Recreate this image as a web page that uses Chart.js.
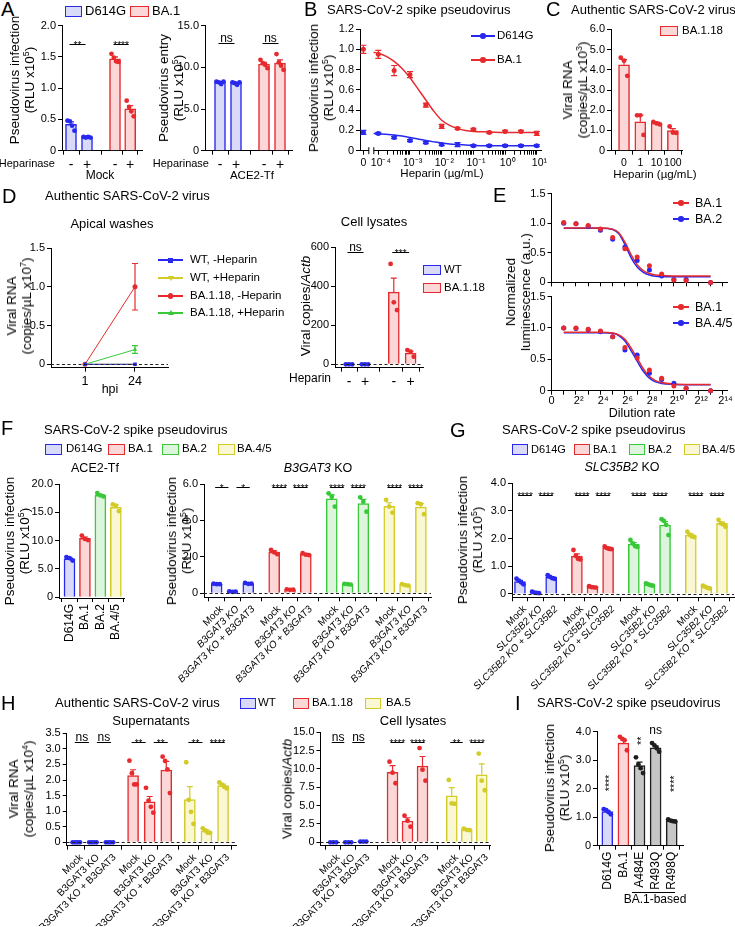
<!DOCTYPE html>
<html><head><meta charset="utf-8">
<script src="https://cdn.jsdelivr.net/npm/chart.js@4.4.1/dist/chart.umd.min.js"></script>
<style>
html,body{margin:0;padding:0;background:#fff;}
#root{position:relative;width:735px;height:927px;overflow:hidden;font-family:"Liberation Sans",Arial,Helvetica,sans-serif;color:#000;}
sup{font-size:0.65em;line-height:0;vertical-align:0.55em;}
</style></head><body><div id="root"></div>
<script>
// ================= DATA =================
// A
const aCats = ['-', '+', '-', '+'];
const aInfMean = [0.42, 0.22, 1.47, 0.67];
const aInfSem  = [0.04, 0.01, 0.03, 0.05];
const aInfPts  = [[0.48,0.47,0.40,0.32],[0.22,0.21,0.22,0.21],[1.55,1.49,1.43,1.42],[0.80,0.70,0.63,0.55]];
const aEntMean = [8.2, 8.1, 10.4, 10.5];
const aEntSem  = [0.1, 0.1, 0.2, 0.4];
const aEntPts  = [[8.3,8.2,8.0,8.3],[8.2,8.1,7.9,8.2],[10.9,10.5,10.3,9.9],[11.6,10.6,10.2,9.7]];
// B
const bHeparin  = [0, 1e-4, 3.16e-4, 1e-3, 3.16e-3, 1e-2, 3.16e-2, 0.1, 0.316, 1, 3.16, 10];
const bBA1      = [1.00, 0.95, 0.79, 0.75, 0.45, 0.24, 0.22, 0.21, 0.18, 0.19, 0.19, 0.17];
const bBA1Err   = [0.04, 0.04, 0.05, 0.03, 0.02, 0.02, 0.01, 0.01, 0.01, 0.01, 0.01, 0.02];
const bD614G    = [0.18, 0.17, 0.13, 0.10, 0.08, 0.06, 0.06, 0.05, 0.05, 0.05, 0.05, 0.05];
const bD614GErr = [0.02, 0.01, 0.01, 0.01, 0.01, 0.01, 0.02, 0.01, 0.01, 0.01, 0.01, 0.01];
const bFitConc  = [7.1e-5, 1e-4, 1.78e-4, 3.16e-4, 5.62e-4, 1e-3, 1.78e-3, 3.16e-3, 5.62e-3, 1e-2, 1.78e-2, 3.16e-2, 5.62e-2, 0.1, 0.316, 1, 3.16, 10];
const bFitBA1   = [0.97, 0.96, 0.93, 0.88, 0.81, 0.72, 0.61, 0.50, 0.39, 0.30, 0.25, 0.22, 0.20, 0.19, 0.185, 0.18, 0.18, 0.18];
const bFitD614G = [0.17, 0.168, 0.162, 0.155, 0.144, 0.13, 0.115, 0.10, 0.087, 0.075, 0.066, 0.06, 0.055, 0.052, 0.05, 0.05, 0.05, 0.05];
const bMajorLabels = ['10⁻⁴','10⁻³','10⁻²','10⁻¹','10⁰','10¹'];
// C
const cCats = ['0', '1', '10', '100'];
const cMean = [4.25, 1.43, 1.36, 0.99];
const cSem  = [0.25, 0.33, 0.05, 0.10];
const cPts  = [[4.6,4.45,3.7],[1.75,1.75,0.78],[1.42,1.35,1.30],[1.20,0.90,0.88]];
// D
const dHpi = ['1', '24'];
const dWTneg = [0, 0];
const dWTpos = [0, 0];
const dBAneg = [0, 1.0];
const dBAnegErr = [0, 0.3];
const dBApos = [0, 0.19];
const dBAposErr = [0, 0.05];
const dLysCats = ['-', '+', '-', '+'];
const dLysMean = [0, 0, 370, 57];
const dLysSem  = [0, 0, 72, 10];
const dLysPts  = [[0,0,0],[0,0,0],[515,318,278],[73,65,39]];
// E
const eDilution = [2,4,8,16,32,64,128,256,512,1024,2048,8192];
const eTopBA1 = [1.01,0.99,0.96,0.90,0.76,0.57,0.43,0.28,0.14,0.04,0.03,0.0];
const eTopBA2 = [1.00,0.99,0.95,0.88,0.73,0.60,0.37,0.21,0.11,0.05,0.05,0.0];
const eBotBA1 = [1.00,1.00,0.98,0.95,0.86,0.69,0.52,0.33,0.20,0.075,0.04,0.0];
const eBotBA45= [1.00,0.99,0.97,0.94,0.86,0.65,0.57,0.28,0.18,0.12,0.04,0.0];
const eFitDil = [2, 16, 32, 45.3, 64, 90.5, 128, 181, 256, 362, 512, 1024, 2048, 8192];
const eFitTopBA1 = [0.92,0.92,0.90,0.84,0.68,0.47,0.30,0.20,0.15,0.125,0.115,0.11,0.11,0.11];
const eFitTopBA2 = [0.915,0.915,0.895,0.82,0.64,0.42,0.26,0.17,0.125,0.105,0.10,0.095,0.095,0.095];
const eFitBotBA1 = [0.93,0.93,0.92,0.89,0.82,0.68,0.52,0.35,0.23,0.16,0.13,0.105,0.10,0.10];
const eFitBotBA45= [0.925,0.925,0.915,0.88,0.79,0.64,0.47,0.31,0.20,0.14,0.115,0.10,0.095,0.095];
const eTickLabels = ['0','','2²','','2⁴','','2⁶','','2⁸','','2¹⁰','','2¹²','','2¹⁴'];
// F
const fAceCats = ['D614G','BA.1','BA.2','BA.4/5'];
const fAceMean = [6.8, 10.4, 18.0, 15.9];
const fAceSem  = [0.2, 0.25, 0.15, 0.4];
const fAcePts  = [[7.1,6.9,6.5],[10.9,10.3,10.1],[18.4,18.0,17.8],[16.4,16.2,15.2]];
const fKoCats = ['Mock','B3GAT3 KO','B3GAT3 KO + B3GAT3','Mock','B3GAT3 KO','B3GAT3 KO + B3GAT3','Mock','B3GAT3 KO','B3GAT3 KO + B3GAT3','Mock','B3GAT3 KO','B3GAT3 KO + B3GAT3'];
const fKoMean = [0.51, 0.09, 0.54, 2.26, 0.20, 2.14, 5.18, 0.50, 4.93, 4.77, 0.46, 4.73];
const fKoSem  = [0.02, 0.01, 0.03, 0.07, 0.01, 0.03, 0.22, 0.02, 0.23, 0.2, 0.02, 0.2];
const fKoPts  = [[0.53,0.50,0.50],[0.10,0.08,0.09],[0.57,0.52,0.53],[2.38,2.25,2.15],[0.22,0.19,0.20],[2.20,2.12,2.10],
                 [5.49,5.30,4.76],[0.52,0.50,0.48],[5.27,5.03,4.48],[5.13,4.76,4.43],[0.50,0.45,0.42],[4.95,4.90,4.34]];
// G
const gCats = ['Mock','SLC35B2 KO','SLC35B2 KO + SLC35B2','Mock','SLC35B2 KO','SLC35B2 KO + SLC35B2','Mock','SLC35B2 KO','SLC35B2 KO + SLC35B2','Mock','SLC35B2 KO','SLC35B2 KO + SLC35B2'];
const gMean = [0.45, 0.05, 0.60, 1.37, 0.25, 1.66, 1.80, 0.34, 2.49, 2.13, 0.25, 2.55];
const gSem  = [0.04, 0.01, 0.03, 0.08, 0.01, 0.03, 0.06, 0.02, 0.13, 0.04, 0.02, 0.05];
const gPts  = [[0.55,0.48,0.42,0.35],[0.08,0.05,0.04,0.03],[0.68,0.62,0.57,0.55],[1.59,1.38,1.27,1.25],[0.28,0.25,0.24,0.23],[1.72,1.66,1.63,1.62],
               [1.95,1.83,1.73,1.70],[0.38,0.35,0.32,0.30],[2.70,2.64,2.50,2.13],[2.25,2.14,2.08,2.06],[0.30,0.26,0.22,0.20],[2.68,2.55,2.52,2.43]];
// H
const hCats = ['Mock','B3GAT3 KO','B3GAT3 KO + B3GAT3','Mock','B3GAT3 KO','B3GAT3 KO + B3GAT3','Mock','B3GAT3 KO','B3GAT3 KO + B3GAT3'];
const hSupMean = [0, 0, 0, 2.14, 1.30, 2.32, 1.37, 0.36, 1.82];
const hSupSem  = [0, 0, 0, 0.19, 0.17, 0.28, 0.42, 0.04, 0.05];
const hSupPts  = [[0,0,0,0],[0,0,0,0],[0,0,0,0],[2.62,2.22,1.86,1.86],[1.75,1.34,1.14,0.95],[2.75,2.61,2.34,1.58],
                  [2.57,1.36,0.98,0.59],[0.45,0.38,0.31,0.30],[1.92,1.85,1.78,1.73]];
const hLysMean = [0.05, 0.05, 0.1, 9.55, 2.9, 10.4, 6.35, 1.73, 9.2];
const hLysSem  = [0.03, 0.03, 0.05, 0.9, 0.45, 1.3, 1.1, 0.06, 1.5];
const hLysPts  = [[0,0,0],[0,0,0],[0.1,0.1,0.1],[11.0,9.5,8.05],[3.63,2.95,2.13],[12.85,9.9,8.4],[8.5,5.3,5.25],[1.85,1.7,1.65],[12.1,8.4,7.1]];
// I
const iCats = ['D614G','BA.1','A484E','R493Q','R498Q'];
const iMean = [1.20, 3.60, 2.81, 3.43, 0.87];
const iSem  = [0.04, 0.10, 0.12, 0.07, 0.02];
const iPts  = [[1.28,1.25,1.18,1.10],[3.82,3.75,3.70,3.35],[3.10,2.85,2.72,2.55],[3.60,3.52,3.42,3.30],[0.92,0.88,0.86,0.85]];

// ================= STYLE / HELPERS =================
const FONT = '"Liberation Sans", Arial, Helvetica, sans-serif';
Chart.defaults.font.family = FONT;
Chart.defaults.font.size = 11;
Chart.defaults.color = '#000';
Chart.defaults.animation = false;
Chart.defaults.responsive = false;
Chart.defaults.events = [];
Chart.defaults.plugins.legend.display = false;
Chart.defaults.plugins.tooltip.enabled = false;

const COL = {
  blue:   {s:'#2828ee', f:'#d8daf8'},
  red:    {s:'#e62a2e', f:'#fbd7d7'},
  green:  {s:'#38c838', f:'#dcf5dc'},
  yellow: {s:'#d2cb28', f:'#f9f8d2'},
  gray:   {s:'#1e1e1e', f:'#c6c6c6'}
};
const root = document.getElementById('root');
function el(css, html){ const e=document.createElement('div'); e.style.cssText='position:absolute;'+css; if(html!==undefined) e.innerHTML=html; root.appendChild(e); return e; }
function txt(x, cy, html, size, align){
  const tx = align==='c' ? '-50%' : align==='r' ? '-100%' : '0';
  return el(`left:${x}px;top:${cy}px;transform:translate(${tx},-50%);font-size:${size}px;white-space:nowrap;line-height:1.15;`, html);
}
function vtxt(cx, cy, html, size, lh){
  return el(`left:${cx}px;top:${cy}px;transform:translate(-50%,-50%) rotate(-90deg);font-size:${size}px;white-space:nowrap;text-align:center;line-height:${lh||15}px;`, html);
}
function boxLegend(x, cy, w, h, c, label, tx, size){
  el(`left:${x}px;top:${cy-h/2}px;width:${w}px;height:${h}px;border:1.5px solid ${c.s};background:${c.f};box-sizing:border-box;`);
  txt(tx, cy, label, size||11.5);
}
function lineLegend(x1, x2, cy, color, label, tx, size, marker){
  el(`left:${x1}px;top:${cy-0.75}px;width:${x2-x1}px;height:1.5px;background:${color};`);
  const mx=(x1+x2)/2;
  if(marker==='rect') el(`left:${mx-2.5}px;top:${cy-2.5}px;width:5px;height:5px;background:${color};`);
  else if(marker==='tri') el(`left:${mx-3}px;top:${cy-3}px;width:0;height:0;border-left:3px solid transparent;border-right:3px solid transparent;border-bottom:5px solid ${color};`);
  else if(marker==='trid') el(`left:${mx-3}px;top:${cy-2}px;width:0;height:0;border-left:3px solid transparent;border-right:3px solid transparent;border-top:5px solid ${color};`);
  else el(`left:${mx-2.75}px;top:${cy-2.75}px;width:5.5px;height:5.5px;border-radius:50%;background:${color};`);
  txt(tx, cy, label, size||11.5);
}
function frame(rect, ext){
  const L=Math.round(rect[0]-ext.l), T=Math.round(rect[1]-ext.t), R=Math.round(rect[2]+ext.r), B=Math.round(rect[3]+ext.b);
  const c=document.createElement('canvas');
  c.width=R-L; c.height=B-T;
  c.style.cssText=`position:absolute;left:${L}px;top:${T}px;width:${R-L}px;height:${B-T}px;`;
  root.appendChild(c);
  return {canvas:c, yw:rect[0]-L, pt:rect[1]-T, pr:R-rect[2], xh:B-rect[3]};
}
function axisStyle(){ return {
  grid:{display:true, drawOnChartArea:false, drawTicks:true, tickLength:4, color:'#000', lineWidth:1},
  border:{display:true, color:'#000', width:1}
};}
function yAxis(range, ticks, dec, width){
  return Object.assign(axisStyle(), {type:'linear', position:'left', min:range[0], max:range[1],
    afterBuildTicks:s=>{ s.ticks = ticks.map(v=>({value:v})); },
    afterFit:s=>{ s.width = width; },
    ticks:{autoSkip:false, padding:2, font:{size:11}, color:'#000', callback:v=> v===0 ? '0' : v.toFixed(dec)}
  });
}
// superscript labels: pad left so the base number sits centred on the tick
const supPad = s => /[⁰¹²³⁴⁵⁶⁷⁸⁹⁻]/.test(s) ? '\u2002' + s : s;
function xAxis(type, range, ticks, labels, height, rot, font, pad){
  return Object.assign(axisStyle(), {type, position:'bottom', min:range[0], max:range[1], offset:false,
    afterBuildTicks:s=>{ s.ticks = ticks.map(v=>({value:v})); },
    afterFit:s=>{ s.height = height; },
    ticks:{autoSkip:false, padding:(pad===undefined?2:pad), maxRotation:rot, minRotation:rot, labelOffset:(rot===45?5:0),
           font:font||{size:11}, color:'#000', callback:(v,i)=>supPad(labels[i])}
  });
}
function deco(o){
  return {id:'deco',
    afterDatasetDraw(chart, args){
      const ds = chart.data.datasets[args.index];
      const errs = ds.sem || ds.err; if(!errs) return;
      const ctx=chart.ctx, xs=chart.scales.x, ys=chart.scales.y;
      ctx.save(); ctx.lineWidth=1.2;
      ds.data.forEach((p,i)=>{
        const e=errs[i]; if(!e || p.y==null) return;
        const col = Array.isArray(ds.borderColor) ? ds.borderColor[i] : ds.borderColor;
        const x=xs.getPixelForValue(p.x);
        const y1=ys.getPixelForValue(p.y+e), y0=ys.getPixelForValue(ds.sem ? p.y : p.y-e);
        ctx.strokeStyle=col; ctx.beginPath();
        ctx.moveTo(x,y0); ctx.lineTo(x,y1);
        ctx.moveTo(x-3,y1); ctx.lineTo(x+3,y1);
        if(!ds.sem){ ctx.moveTo(x-3,y0); ctx.lineTo(x+3,y0); }
        ctx.stroke();
      });
      ctx.restore();
    },
    afterDatasetsDraw(chart){
      const ctx=chart.ctx, xs=chart.scales.x, ys=chart.scales.y, a=chart.chartArea;
      ctx.save();
      if(o.zero){
        const y=Math.round(ys.getPixelForValue(0))+0.5;
        ctx.setLineDash([3,2.5]); ctx.strokeStyle='#222'; ctx.lineWidth=1;
        ctx.beginPath(); ctx.moveTo(a.left,y); ctx.lineTo(a.right,y); ctx.stroke(); ctx.setLineDash([]);
      }
      if(o.sig){
        o.sig.forEach(([i,j,t])=>{
          const leftShared = o.sig.some(s=>s[1]===i), rightShared = o.sig.some(s=>s[0]===j);
          const x1=xs.getPixelForValue(o.pos[i]) + (leftShared ? 4 : -1.5);
          const x2=xs.getPixelForValue(o.pos[j]) + (rightShared ? -4 : (leftShared ? 1.5 : -1.5));
          const m=(x1+x2)/2;
          const y=Math.round(ys.getPixelForValue(o.sigY))+0.5;
          ctx.strokeStyle='#000'; ctx.lineWidth=1;
          ctx.beginPath(); ctx.moveTo(x1,y); ctx.lineTo(x2,y); ctx.stroke();
          ctx.fillStyle='#000'; ctx.textAlign='center'; ctx.textBaseline='alphabetic';
          const star=t.includes('*');
          ctx.font=(star?10:12)+'px '+FONT;
          ctx.fillText(t, m, star ? y+4 : y-1.5);
        });
      }
      if(o.vsig){
        o.vsig.forEach(([i,t,yv,mode])=>{
          const x=xs.getPixelForValue(o.pos[i]), y=ys.getPixelForValue(yv);
          ctx.fillStyle='#000'; ctx.textAlign='center'; ctx.textBaseline='middle';
          if(mode==='v'){
            ctx.font='10.5px '+FONT; ctx.save(); ctx.translate(x,y); ctx.rotate(-Math.PI/2); ctx.fillText(t,0,3); ctx.restore();
          } else { ctx.font='12px '+FONT; ctx.fillText(t,x,y); }
        });
      }
      if(o.brk){
        const x=xs.getPixelForValue(o.brk), y=a.bottom;
        ctx.fillStyle='#fff'; ctx.fillRect(x-2.5, y-2, 5, 4);
        ctx.strokeStyle='#000'; ctx.lineWidth=1;
        ctx.beginPath(); ctx.moveTo(x-2.5,y-3.5); ctx.lineTo(x-2.5,y+3.5); ctx.moveTo(x+2.5,y-3.5); ctx.lineTo(x+2.5,y+3.5); ctx.stroke();
      }
      ctx.restore();
    }
  };
}
const JIT = {1:[0],2:[-0.12,0.12],3:[-0.2,0,0.2],4:[-0.22,-0.07,0.07,0.22]};
function barChart(o){
  const f=frame(o.rect, o.ext);
  const dots=[], dotCol=[];
  o.pts.forEach((arr,i)=>arr.forEach((v,k)=>{ dots.push({x:o.pos[i]+JIT[arr.length][k], y:v}); dotCol.push(o.colors[i].s); }));
  new Chart(f.canvas, {
    type:'bar',
    data:{datasets:[
      {type:'scatter', data:dots, pointRadius:o.r||2.4, pointBackgroundColor:dotCol, pointBorderWidth:0, clip:false, order:0},
      {type:'bar', data:o.means.map((m,i)=>({x:o.pos[i], y:m})), sem:o.sems,
       backgroundColor:o.colors.map(c=>c.f), borderColor:o.colors.map(c=>c.s), borderWidth:1.5,
       barThickness:o.bw||11, order:1, borderSkipped:'start'}
    ]},
    options:{layout:{padding:{top:f.pt, right:f.pr, left:0, bottom:0}},
      scales:{x:xAxis('linear', o.xRange, o.pos, o.labels, f.xh, o.rot||0, o.xFont),
              y:yAxis(o.yRange, o.yTicks, o.dec, f.yw)}},
    plugins:[deco(o)]
  });
}
function groupPos(n, step){ const p=[]; for(let g=0; g<n; g++) for(let k=0;k<3;k++) p.push(g*step+k); return p; }
function rep(arr, n){ return [].concat(...arr.map(c=>Array(n).fill(c))); }
const italicKO = ctx => ({size:10, family:FONT, style: (ctx.index%3!==0) ? 'italic' : 'normal'});

// ================= PANEL A =================
barChart({rect:[62,25.7,142,150.7], ext:{l:40,t:10,r:6,b:20}, xRange:[-0.5625,4.4375], pos:[0,1,2.75,3.7], labels:aCats,
  xFont:{size:14}, yRange:[0,2], yTicks:[0,0.5,1,1.5,2], dec:1, means:aInfMean, sems:aInfSem, pts:aInfPts,
  colors:[COL.blue,COL.blue,COL.red,COL.red], sig:[[0,1,'**'],[2,3,'****']], sigY:1.71});
barChart({rect:[205,25.7,292,150.7], ext:{l:40,t:10,r:6,b:20}, xRange:[-0.9375,4.5], pos:[0,1,2.75,3.75], labels:aCats,
  xFont:{size:14}, yRange:[0,15], yTicks:[0,5,10,15], dec:1, means:aEntMean, sems:aEntSem, pts:aEntPts,
  colors:[COL.blue,COL.blue,COL.red,COL.red], sig:[[0,1,'ns'],[2,3,'ns']], sigY:12.9});
txt(1, 9, 'A', 20);
boxLegend(65, 11, 17, 11, COL.blue, 'D614G', 85, 13);
boxLegend(130, 11, 19, 11, COL.red, 'BA.1', 152, 13);
vtxt(22, 80, 'Pseudovirus infection<br>(RLU x10<sup>5</sup>)', 13.5);
vtxt(171, 88, 'Pseudovirus entry<br>(RLU x10<sup>5</sup>)', 13.5);
txt(55, 163, 'Heparinase', 11, 'r');
txt(100, 176, 'Mock', 12, 'c');
txt(209, 163, 'Heparinase', 11, 'r');
txt(252, 176, 'ACE2-Tf', 11.5, 'c');

// ================= PANEL B =================
(function(){
  const B_ZERO = Math.pow(10,-4.47);
  const f=frame([360,29,541,150.7], {l:40,t:10,r:10,b:24});
  const tv=[B_ZERO], tl=['0'];
  for(let e=-4;e<=1;e++){ tv.push(Math.pow(10,e)); tl.push(bMajorLabels[e+4]); if(e<1) for(let k=2;k<=9;k++){ tv.push(k*Math.pow(10,e)); tl.push(''); } }
  const px = c => c>0 ? c : B_ZERO;
  new Chart(f.canvas, {
    type:'scatter',
    data:{datasets:[
      {data:bHeparin.map((c,i)=>({x:px(c), y:bBA1[i]})), err:bBA1Err, borderColor:COL.red.s, pointBackgroundColor:COL.red.s, pointBorderWidth:0, pointRadius:2.5, clip:false, order:0},
      {data:bHeparin.map((c,i)=>({x:px(c), y:bD614G[i]})), err:bD614GErr, borderColor:COL.blue.s, pointBackgroundColor:COL.blue.s, pointBorderWidth:0, pointRadius:2.5, clip:false, order:1},
      {data:bFitConc.map((c,i)=>({x:c, y:bFitBA1[i]})), showLine:true, pointRadius:0, borderColor:COL.red.s, borderWidth:1.5, cubicInterpolationMode:'monotone', order:2},
      {data:bFitConc.map((c,i)=>({x:c, y:bFitD614G[i]})), showLine:true, pointRadius:0, borderColor:COL.blue.s, borderWidth:1.5, cubicInterpolationMode:'monotone', order:3}
    ]},
    options:{layout:{padding:{top:f.pt, right:f.pr, left:0, bottom:0}},
      scales:{x:xAxis('logarithmic', [Math.pow(10,-4.577), Math.pow(10,1.133)], tv, tl, f.xh, 0, {size:10.5}),
              y:yAxis([0,1.2], [0,0.2,0.4,0.6,0.8,1.0,1.2], 1, f.yw)}},
    plugins:[deco({brk:Math.pow(10,-4.22)})]
  });
})();
txt(304, 9, 'B', 20);
txt(327, 10, 'SARS-CoV-2 spike pseudovirus', 13);
vtxt(321, 88, 'Pseudovirus infection<br>(RLU x10<sup>5</sup>)', 13.5);
txt(442, 174, 'Heparin (µg/mL)', 11.5, 'c');
lineLegend(471, 495, 36, COL.blue.s, 'D614G', 497, 11.5);
lineLegend(471, 495, 60, COL.red.s, 'BA.1', 497, 11.5);

// ================= PANEL C =================
barChart({rect:[611,29.3,682,150.7], ext:{l:40,t:10,r:6,b:20}, xRange:[-0.8,3.56], pos:[0,1,2,3], labels:cCats,
  xFont:{size:10.5}, yRange:[0,6], yTicks:[0,1,2,3,4,5,6], dec:1, means:cMean, sems:cSem, pts:cPts, colors:rep([COL.red],4)});
txt(546, 9, 'C', 20);
txt(571, 10, 'Authentic SARS-CoV-2 virus', 13);
boxLegend(660, 31, 18, 10, COL.red, 'BA.1.18', 682);
vtxt(575, 90, 'Viral RNA<br>(copies/µL x10<sup>3</sup>)', 13.5);
txt(655, 175, 'Heparin (µg/mL)', 11.5, 'c');

// ================= PANEL D =================
(function(){
  const f=frame([51,248,168,367.7], {l:40,t:10,r:6,b:22});
  const mk=(arr)=>arr.map((v,i)=>({x:i+1, y:v}));
  new Chart(f.canvas, {
    type:'scatter',
    data:{datasets:[
      {data:mk(dWTneg), showLine:true, borderColor:COL.blue.s, pointBackgroundColor:COL.blue.s, pointStyle:'rect', pointRadius:2.5, borderWidth:1, pointBorderWidth:0, clip:false},
      {data:mk(dWTpos), showLine:true, borderColor:COL.yellow.s, pointBackgroundColor:COL.yellow.s, pointStyle:'triangle', pointRotation:180, pointRadius:2.5, borderWidth:1, pointBorderWidth:0, clip:false},
      {data:mk(dBApos), err:dBAposErr, showLine:true, borderColor:COL.green.s, pointBackgroundColor:COL.green.s, pointStyle:'triangle', pointRadius:2.5, borderWidth:1, pointBorderWidth:0, clip:false},
      {data:mk(dBAneg), err:dBAnegErr, showLine:true, borderColor:COL.red.s, pointBackgroundColor:COL.red.s, pointStyle:'circle', pointRadius:2.5, borderWidth:1, pointBorderWidth:0, clip:false}
    ]},
    options:{layout:{padding:{top:f.pt, right:f.pr, left:0, bottom:0}},
      scales:{x:xAxis('linear', [0.32,2.66], [1,2], dHpi, f.xh, 0, {size:12.5}),
              y:yAxis([-0.044,1.5], [0,0.5,1,1.5], 1, f.yw)}},
    plugins:[deco({zero:true})]
  });
})();
barChart({rect:[335,247.3,423,367.7], ext:{l:40,t:10,r:6,b:20}, xRange:[-0.875,4.625], pos:[0,1,2.8,3.85], labels:dLysCats,
  xFont:{size:14}, yRange:[-17.4,600], yTicks:[0,200,400,600], dec:0, means:dLysMean, sems:dLysSem, pts:dLysPts,
  colors:[COL.blue,COL.blue,COL.red,COL.red], zero:true, sig:[[0,1,'ns'],[2,3,'***']], sigY:576});
txt(2, 196, 'D', 20);
txt(45, 196, 'Authentic SARS-CoV-2 virus', 13);
txt(112, 224, 'Apical washes', 13, 'c');
txt(374, 222, 'Cell lysates', 13, 'c');
vtxt(19, 306, 'Viral RNA<br>(copies/µL x10<sup>7</sup>)', 13.5);
txt(110, 389, 'hpi', 12.5, 'c');
lineLegend(158, 183, 260, COL.blue.s, 'WT, -Heparin', 190, 11.5, 'rect');
lineLegend(158, 183, 278, COL.yellow.s, 'WT, +Heparin', 190, 11.5, 'trid');
lineLegend(158, 183, 296, COL.red.s, 'BA.1.18, -Heparin', 190, 11.5, 'circle');
lineLegend(158, 183, 313, COL.green.s, 'BA.1.18, +Heparin', 190, 11.5, 'tri');
vtxt(305, 306, 'Viral copies/<i>Actb</i>', 13.5);
txt(331, 379, 'Heparin', 12, 'r');
boxLegend(423, 270, 18, 10, COL.blue, 'WT', 444);
boxLegend(423, 288, 18, 10, COL.red, 'BA.1.18', 444);

// ================= PANEL E =================
function eChart(rect, ext, d1, d2, f1, f2, showLabels){
  const f=frame(rect, ext);
  const tv=[], tl=[];
  for(let k=0;k<=14;k++){ tv.push(Math.pow(2,k)); tl.push(showLabels ? eTickLabels[k] : ''); }
  new Chart(f.canvas, {
    type:'scatter',
    data:{datasets:[
      {data:eDilution.map((x,i)=>({x, y:d1[i]})), pointBackgroundColor:COL.red.s, pointBorderWidth:0, pointRadius:2.5, clip:false, order:0},
      {data:eDilution.map((x,i)=>({x, y:d2[i]})), pointBackgroundColor:COL.blue.s, pointBorderWidth:0, pointRadius:2.5, clip:false, order:1},
      {data:eFitDil.map((x,i)=>({x, y:f1[i]})), showLine:true, pointRadius:0, borderColor:COL.red.s, borderWidth:1.5, cubicInterpolationMode:'monotone', order:2},
      {data:eFitDil.map((x,i)=>({x, y:f2[i]})), showLine:true, pointRadius:0, borderColor:COL.blue.s, borderWidth:1.5, cubicInterpolationMode:'monotone', order:3}
    ]},
    options:{layout:{padding:{top:f.pt, right:f.pr, left:0, bottom:0}},
      scales:{x:xAxis('logarithmic', [1, Math.pow(2,14.34)], tv, tl, f.xh, 0, {size:11}, 0),
              y:yAxis([0,1.5], [0,0.5,1,1.5], 1, f.yw)}}
  });
}
eChart([551.5,193.3,727,285], {l:40,t:8,r:10,b:6}, eTopBA1, eTopBA2, eFitTopBA1, eFitTopBA2, false);
eChart([551.5,296,727,390.7], {l:40,t:8,r:10,b:20}, eBotBA1, eBotBA45, eFitBotBA1, eFitBotBA45, true);
txt(493, 195, 'E', 20);
vtxt(518, 292, 'Normalized<br>luminescence (a.u.)', 13.5);
lineLegend(673, 689, 203, COL.red.s, 'BA.1', 695, 12.5);
lineLegend(673, 689, 219, COL.blue.s, 'BA.2', 695, 12.5);
lineLegend(673, 689, 307, COL.red.s, 'BA.1', 695, 12.5);
lineLegend(673, 689, 323, COL.blue.s, 'BA.4/5', 695, 12.5);
txt(642, 413, 'Dilution rate', 12.5, 'c');

// ================= PANEL F =================
barChart({rect:[59,484,127,598], ext:{l:40,t:10,r:6,b:50}, xRange:[-0.68,3.54], pos:[0,1,2,3], labels:fAceCats, rot:90,
  xFont:{size:12}, yRange:[-0.12,20], yTicks:[0,5,10,15,20], dec:1, means:fAceMean, sems:fAceSem, pts:fAcePts,
  colors:[COL.blue,COL.red,COL.green,COL.yellow]});
const fPos = groupPos(4, 3.64);
barChart({rect:[204,484,431,597.3], ext:{l:52,t:12,r:10,b:100}, xRange:[-0.80,13.56], pos:fPos, labels:fKoCats, rot:45,
  xFont:italicKO, yRange:[-0.22,6], yTicks:[0,2,4,6], dec:1, means:fKoMean, sems:fKoSem, pts:fKoPts,
  colors:rep([COL.blue,COL.red,COL.green,COL.yellow],3), zero:true,
  sig:[[0,1,'*'],[1,2,'*'],[3,4,'****'],[4,5,'****'],[6,7,'****'],[7,8,'****'],[9,10,'****'],[10,11,'****']], sigY:5.84});
txt(1, 428, 'F', 20);
txt(44, 430, 'SARS-CoV-2 spike pseudovirus', 13);
boxLegend(45, 449, 17, 11, COL.blue, 'D614G', 66);
boxLegend(108, 449, 17, 11, COL.red, 'BA.1', 128);
boxLegend(162, 449, 17, 11, COL.green, 'BA.2', 182);
boxLegend(218, 449, 17, 11, COL.yellow, 'BA.4/5', 237);
txt(95, 468, 'ACE2-Tf', 12.5, 'c');
txt(318, 468, '<i>B3GAT3</i> KO', 12.5, 'c');
vtxt(17, 541, 'Pseudovirus infection<br>(RLU x10<sup>5</sup>)', 13.5);
vtxt(179, 541, 'Pseudovirus infection<br>(RLU x10<sup>5</sup>)', 13.5);

// ================= PANEL G =================
const gPos = groupPos(4, 3.65);
barChart({rect:[512,483.3,734,597.3], ext:{l:50,t:12,r:10,b:100}, xRange:[-0.51,13.72], pos:gPos, labels:gCats, rot:45,
  xFont:italicKO, yRange:[-0.12,4], yTicks:[0,1,2,3,4], dec:1, means:gMean, sems:gSem, pts:gPts,
  colors:rep([COL.blue,COL.red,COL.green,COL.yellow],3), zero:true,
  sig:[[0,1,'****'],[1,2,'****'],[3,4,'****'],[4,5,'****'],[6,7,'****'],[7,8,'****'],[9,10,'****'],[10,11,'****']], sigY:3.57});
txt(450, 430, 'G', 20);
txt(502, 430, 'SARS-CoV-2 spike pseudovirus', 13);
boxLegend(512, 449, 16, 11, COL.blue, 'D614G', 531, 11);
boxLegend(574, 449, 16, 11, COL.red, 'BA.1', 593, 11);
boxLegend(629, 449, 16, 11, COL.green, 'BA.2', 648, 11);
boxLegend(684, 449, 16, 11, COL.yellow, 'BA.4/5', 702, 11);
txt(622, 467, '<i>SLC35B2</i> KO', 12.5, 'c');
vtxt(470, 540, 'Pseudovirus infection<br>(RLU x10<sup>5</sup>)', 13.5);

// ================= PANEL H =================
barChart({rect:[66.7,733.3,236,845.7], ext:{l:42,t:12,r:10,b:80}, xRange:[-0.578,9.62], pos:groupPos(3,3.42), labels:hCats, rot:45,
  xFont:{size:10}, yRange:[-0.109,3.5], yTicks:[0,0.5,1,1.5,2,2.5,3,3.5], dec:1, means:hSupMean, sems:hSupSem, pts:hSupPts,
  colors:rep([COL.blue,COL.red,COL.yellow],3), zero:true,
  sig:[[0,1,'ns'],[1,2,'ns'],[3,4,'**'],[4,5,'**'],[6,7,'**'],[7,8,'****']], sigY:3.22});
barChart({rect:[320.5,732.3,490,845.7], ext:{l:38,t:12,r:10,b:80}, xRange:[-0.853,10.45], pos:groupPos(3,3.95), labels:hCats, rot:45,
  xFont:{size:10}, yRange:[-0.464,15], yTicks:[0,2.5,5,7.5,10,12.5,15], dec:1, means:hLysMean, sems:hLysSem, pts:hLysPts,
  colors:rep([COL.blue,COL.red,COL.yellow],3), zero:true,
  sig:[[0,1,'ns'],[1,2,'ns'],[3,4,'****'],[4,5,'****'],[6,7,'**'],[7,8,'****']], sigY:13.7});
txt(1, 703, 'H', 20);
txt(55, 703, 'Authentic SARS-CoV-2 virus', 13);
boxLegend(240, 703, 16, 11, COL.blue, 'WT', 258);
boxLegend(293, 703, 16, 11, COL.red, 'BA.1.18', 312);
boxLegend(365, 703, 16, 11, COL.yellow, 'BA.5', 386);
txt(151, 721, 'Supernatants', 13, 'c');
txt(413, 721, 'Cell lysates', 13, 'c');
vtxt(21, 789, 'Viral RNA<br>(copies/µL x10<sup>4</sup>)', 13.5);
vtxt(287, 789, 'Viral copies/<i>Actb</i>', 13.5);

// ================= PANEL I =================
barChart({rect:[597,731.7,683.3,845.7], ext:{l:40,t:12,r:8,b:50}, xRange:[-0.64,4.72], pos:[0,1,2,3,4], labels:iCats, rot:90,
  xFont:{size:12}, yRange:[0,4], yTicks:[0,1,2,3,4], dec:1, means:iMean, sems:iSem, pts:iPts,
  colors:[COL.blue,COL.red,COL.gray,COL.gray,COL.gray],
  vsig:[[0,'****',2.2,'v'],[2,'**',3.68,'v'],[3,'ns',4.02,'h'],[4,'****',2.17,'v']]});
txt(515, 703, 'I', 20);
txt(537, 703, 'SARS-CoV-2 spike pseudovirus', 13);
vtxt(557, 788, 'Pseudovirus infection<br>(RLU x10<sup>5</sup>)', 13.5);
el('left:632px;top:892px;width:43px;height:1px;background:#000;');
txt(655, 900, 'BA.1-based', 12, 'c');
</script></body></html>
